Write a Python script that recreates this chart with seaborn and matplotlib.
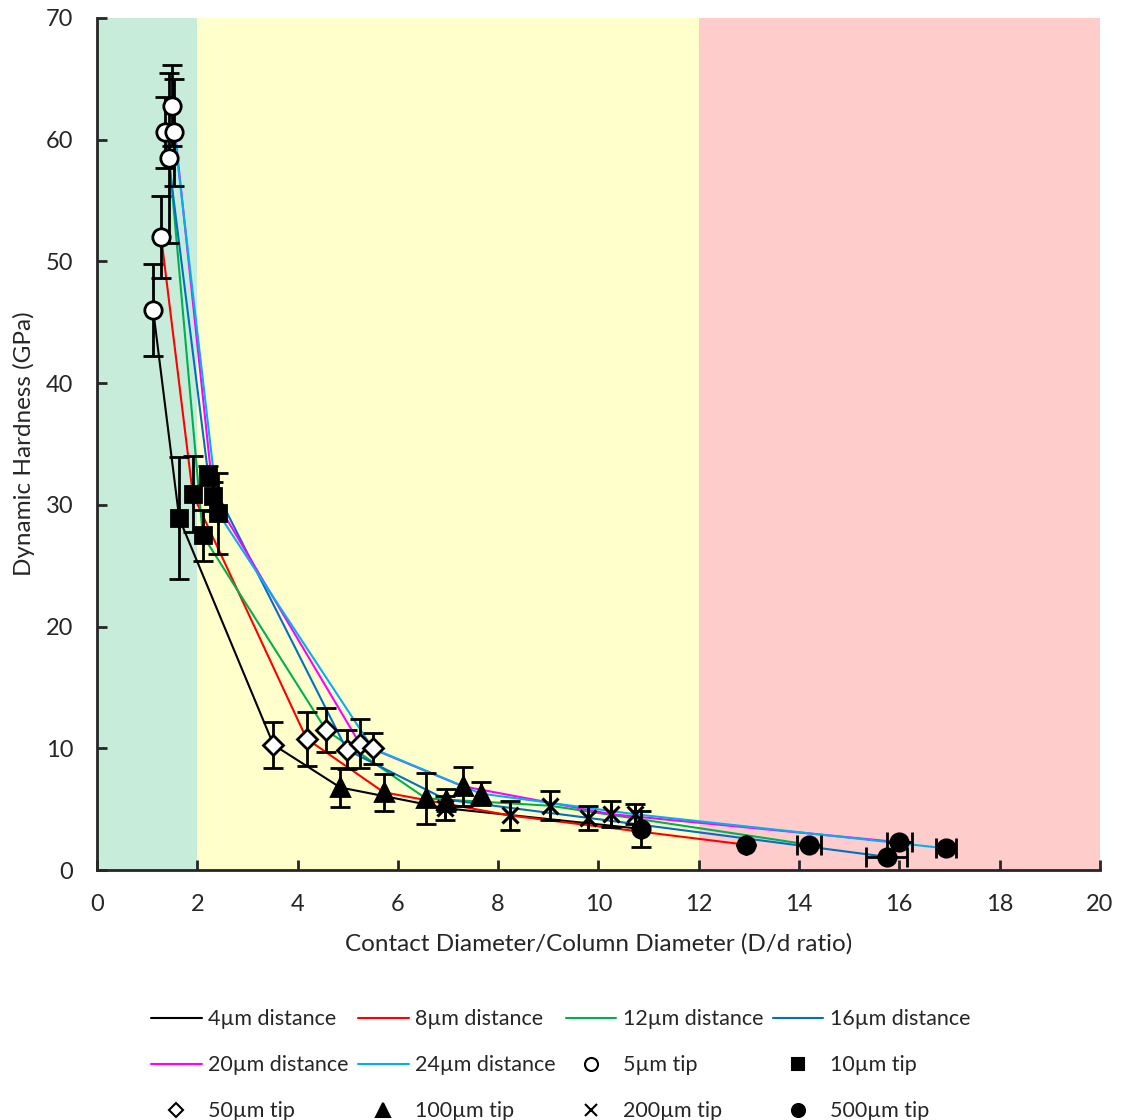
import numpy as np
import pandas as pd
import matplotlib
matplotlib.use("Agg")
import matplotlib.pyplot as plt
from matplotlib.lines import Line2D
import seaborn as sns

# distance series (line colours) and tip series (markers)
distances = ["4µm distance", "8µm distance", "12µm distance",
             "16µm distance", "20µm distance", "24µm distance"]
dist_colors = ["#000000", "#FF0000", "#00B050", "#0070C0", "#FF00FF", "#00B0F0"]

tips = ["5µm tip", "10µm tip", "50µm tip", "100µm tip", "200µm tip", "500µm tip"]

# values per tip, ordered by distance (4, 8, 12, 16, 20, 24 µm)
tip5_x = [1.12, 1.28, 1.44, 1.36, 1.50, 1.54]
tip5_y = [46.0, 52.0, 58.5, 60.6, 62.8, 60.6]
tip5_err = [3.8, 3.4, 7.0, 2.9, 3.3, 4.4]

tip10_x = [1.64, 1.91, 2.11, 2.22, 2.32, 2.42]
tip10_y = [28.9, 30.9, 27.5, 32.4, 30.7, 29.3]
tip10_err = [5.0, 3.1, 2.1, 0.8, 1.2, 3.3]

tip50_x = [3.52, 4.18, 4.57, 4.98, 5.24, 5.50]
tip50_y = [10.3, 10.8, 11.5, 9.9, 10.4, 10.0]
tip50_err = [1.9, 2.2, 1.8, 1.6, 2.0, 1.3]

tip100_x = [4.85, 5.72, 6.56, 6.96, 7.29, 7.65]
tip100_y = [6.8, 6.4, 5.9, 5.8, 6.9, 6.3]
tip100_err = [1.6, 1.5, 2.1, 0.9, 1.6, 0.95]

tip200_x = [6.94, 8.23, 9.03, 9.80, 10.26, 10.73]
tip200_y = [5.1, 4.5, 5.3, 4.3, 4.6, 4.6]
tip200_err = [1.0, 1.2, 1.2, 1.0, 1.05, 0.8]

tip500_x = [10.84, 12.94, 14.20, 15.75, 16.00, 16.93]
tip500_y = [3.4, 2.1, 2.1, 1.1, 2.3, 1.8]
tip500_err = [1.5, 0, 0, 0, 0, 0]
tip500_xerr = [0, 0, 0.23, 0.41, 0.25, 0.20]

zero6 = [0] * 6
tip_data = {
    "5µm tip": (tip5_x, tip5_y, tip5_err, zero6),
    "10µm tip": (tip10_x, tip10_y, tip10_err, zero6),
    "50µm tip": (tip50_x, tip50_y, tip50_err, zero6),
    "100µm tip": (tip100_x, tip100_y, tip100_err, zero6),
    "200µm tip": (tip200_x, tip200_y, tip200_err, zero6),
    "500µm tip": (tip500_x, tip500_y, tip500_err, tip500_xerr),
}
tip_style = {
    "5µm tip": dict(marker="o", mfc="white", ms=12.5),
    "10µm tip": dict(marker="s", mfc="black", ms=12),
    "50µm tip": dict(marker="D", mfc="white", ms=10),
    "100µm tip": dict(marker="^", mfc="black", ms=12.5),
    "200µm tip": dict(marker="x", mfc="black", ms=11),
    "500µm tip": dict(marker="o", mfc="black", ms=12.5),
}

# long table for the lines: one row per (distance, tip)
rows = []
for t in tips:
    xs, ys, _, _ = tip_data[t]
    for i, d in enumerate(distances):
        rows.append({"distance": d, "tip": t, "x": xs[i], "y": ys[i]})
df = pd.DataFrame(rows)

sns.set_style("ticks")
plt.rcParams["font.family"] = ["Lato", "DejaVu Sans"]

fig = plt.figure(figsize=(11.28, 11.2), dpi=100)
ax = fig.add_axes([0.086, 0.223, 0.889, 0.761])

# background zones
ax.axvspan(0, 2, color="#C8ECDA", lw=0, zorder=0)
ax.axvspan(2, 12, color="#FFFFCC", lw=0, zorder=0)
ax.axvspan(12, 20, color="#FFCCCC", lw=0, zorder=0)

sns.lineplot(data=df, x="x", y="y", hue="distance", hue_order=distances,
             palette=dist_colors, sort=False, estimator=None, lw=1.5,
             legend=False, ax=ax, zorder=3)

for t in tips:
    xs, ys, ye, xe = tip_data[t]
    ax.errorbar(xs, ys, yerr=ye, xerr=xe, fmt="none", ecolor="black",
                elinewidth=2, capsize=7, capthick=2, zorder=4)
    st = tip_style[t]
    ax.plot(xs, ys, ls="none", marker=st["marker"], ms=st["ms"],
            mfc=st["mfc"], mec="black", mew=2 if st["marker"] != "x" else 2.2,
            color="black", zorder=5)

ax.set_xlim(0, 20)
ax.set_ylim(0, 70)
ax.set_xticks(range(0, 21, 2))
ax.set_yticks(range(0, 71, 10))
ax.tick_params(direction="in", length=7, width=2, labelsize=17)
ax.tick_params(axis="y", pad=17)
ax.tick_params(axis="x", pad=17)
for s in ["left", "bottom"]:
    ax.spines[s].set_linewidth(2)
sns.despine(ax=ax)
ax.set_xlabel("Contact Diameter/Column Diameter (D/d ratio)", fontsize=17.5, labelpad=13)
ax.set_ylabel("Dynamic Hardness (GPa)", fontsize=17.5, labelpad=8)

# legend: row-major order in 4 columns
handles = [Line2D([], [], color=c, lw=1.5, label=d) for d, c in zip(distances, dist_colors)]
for t in tips:
    st = tip_style[t]
    handles.append(Line2D([], [], ls="none", marker=st["marker"], ms=st["ms"] * 0.75,
                          mfc=st["mfc"], mec="black", mew=1.5, color="black", label=t))
order = [r * 4 + c for c in range(4) for r in range(3)]
fig.legend(handles=[handles[i] for i in order], loc="upper center",
           bbox_to_anchor=(0.497, 0.116), ncol=4, frameon=False, fontsize=15.5,
           handlelength=2.35, handletextpad=0.3, columnspacing=0.45,
           labelspacing=1.2)

fig.savefig("out.png", dpi=100)
